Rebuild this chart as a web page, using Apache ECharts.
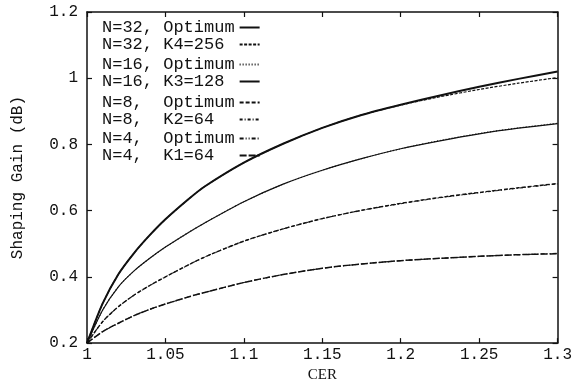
<!DOCTYPE html>
<html>
<head>
<meta charset="utf-8">
<script src="https://cdn.jsdelivr.net/npm/echarts@6/dist/echarts.min.js"></script>
<style>
  html, body { margin: 0; padding: 0; background: #fff; }
  #chart { width: 575px; height: 388px; }
</style>
</head>
<body>
<div id="chart"></div>
<script>
var chart = echarts.init(document.getElementById('chart'));

// CER sample points (x)
var cer = [1.0, 1.01, 1.02, 1.03, 1.04, 1.05, 1.065, 1.075, 1.1, 1.125, 1.15, 1.175, 1.2, 1.225, 1.25, 1.275, 1.3];

// shaping gain (dB) for each curve
var n32Opt = [0.2, 0.32, 0.408, 0.472, 0.526, 0.574, 0.636, 0.673, 0.745, 0.802, 0.85, 0.889, 0.92, 0.948, 0.974, 0.998, 1.02];
var n32K4  = [0.2, 0.32, 0.408, 0.472, 0.526, 0.574, 0.636, 0.673, 0.745, 0.802, 0.85, 0.889, 0.919, 0.944, 0.966, 0.985, 1.002];
var n16Opt = [0.2, 0.30, 0.37, 0.418, 0.456, 0.49, 0.535, 0.563, 0.627, 0.68, 0.722, 0.757, 0.787, 0.812, 0.833, 0.85, 0.864];
var n16K3  = [0.2, 0.30, 0.37, 0.418, 0.456, 0.49, 0.535, 0.563, 0.627, 0.68, 0.722, 0.757, 0.787, 0.811, 0.832, 0.849, 0.863];
var n8Opt  = [0.2, 0.265, 0.31, 0.345, 0.374, 0.40, 0.437, 0.46, 0.508, 0.545, 0.576, 0.601, 0.622, 0.64, 0.655, 0.669, 0.682];
var n8K2   = [0.2, 0.265, 0.31, 0.345, 0.374, 0.40, 0.437, 0.46, 0.508, 0.545, 0.576, 0.601, 0.621, 0.639, 0.654, 0.668, 0.681];
var n4Opt  = [0.2, 0.235, 0.26, 0.283, 0.302, 0.318, 0.34, 0.353, 0.383, 0.407, 0.426, 0.439, 0.449, 0.456, 0.462, 0.467, 0.471];
var n4K1   = [0.2, 0.235, 0.26, 0.283, 0.302, 0.318, 0.34, 0.353, 0.383, 0.407, 0.426, 0.439, 0.449, 0.456, 0.462, 0.467, 0.470];

// legend labels, padded to equal width so the text columns line up
var names = [
  'N=32, Optimum', 'N=32, K4=256 ',
  'N=16, Optimum', 'N=16, K3=128 ',
  'N=8,  Optimum', 'N=8,  K2=64  ',
  'N=4,  Optimum', 'N=4,  K1=64  '
];
var values = [n32Opt, n32K4, n16Opt, n16K3, n8Opt, n8K2, n4Opt, n4K1];
var styles = [
  { width: 2, type: 'solid' },
  { width: 1.2, type: [3, 1.5] },
  { width: 1.1, type: [1, 2] },
  { width: 1.2, type: 'solid' },
  { width: 1.4, type: [4, 2] },
  { width: 1.1, type: [3, 2, 1, 2] },
  { width: 1.1, type: [4, 2, 1, 2, 1, 2] },
  { width: 1.5, type: [7, 2] }
];

var mono = 'Liberation Mono';

var series = values.map(function (v, i) {
  return {
    name: names[i],
    type: 'line',
    symbol: 'none',
    showSymbol: false,
    smooth: 0.25,
    color: '#111',
    lineStyle: { color: '#111', width: styles[i].width, type: styles[i].type },
    data: v.map(function (y, j) { return [cer[j], y]; })
  };
});

var legendTops = [19, 56, 94, 130];
var legends = legendTops.map(function (t, g) {
  return {
    orient: 'vertical',
    left: 102,
    top: t,
    align: 'right',
    itemGap: 0,
    itemWidth: 20,
    itemHeight: 10,
    padding: 0,
    selectedMode: false,
    itemStyle: { opacity: 0 },
    data: [names[g * 2], names[g * 2 + 1]],
    textStyle: { fontFamily: mono, fontSize: 17, lineHeight: 15, color: '#111' }
  };
});

var axisLine = { show: true, lineStyle: { color: '#111', width: 1.5 } };
var tickStyle = { show: true, inside: true, length: 5, lineStyle: { color: '#111', width: 1.2 } };

var option = {
  backgroundColor: '#fff',
  animation: false,
  legend: legends,
  grid: { left: 87, right: 14, top: 12, bottom: 42 },
  xAxis: [
    {
      type: 'value', min: 1, max: 1.3, interval: 0.05,
      name: 'CER', nameLocation: 'middle', nameGap: 22,
      nameTextStyle: { fontFamily: 'Liberation Serif', fontSize: 15, color: '#111' },
      axisLine: axisLine, axisTick: tickStyle, splitLine: { show: false },
      axisLabel: { fontFamily: mono, fontSize: 16, color: '#111', margin: 4,
        formatter: function (v) { return String(+v.toFixed(2)); } }
    },
    {
      type: 'value', min: 1, max: 1.3, interval: 0.05, position: 'top',
      axisLine: axisLine, axisTick: tickStyle, axisLabel: { show: false }, splitLine: { show: false }
    }
  ],
  yAxis: [
    {
      type: 'value', min: 0.2, max: 1.2, interval: 0.2,
      name: 'Shaping Gain (dB)', nameLocation: 'middle', nameGap: 61,
      nameTextStyle: { fontFamily: mono, fontSize: 16, color: '#111' },
      axisLine: axisLine, axisTick: tickStyle, splitLine: { show: false },
      axisLabel: { fontFamily: mono, fontSize: 16, color: '#111', margin: 9,
        formatter: function (v) { return String(+v.toFixed(1)); } }
    },
    {
      type: 'value', min: 0.2, max: 1.2, interval: 0.2, position: 'right',
      axisLine: axisLine, axisTick: tickStyle, axisLabel: { show: false }, splitLine: { show: false }
    }
  ],
  series: series
};

chart.setOption(option);
</script>
</body>
</html>
